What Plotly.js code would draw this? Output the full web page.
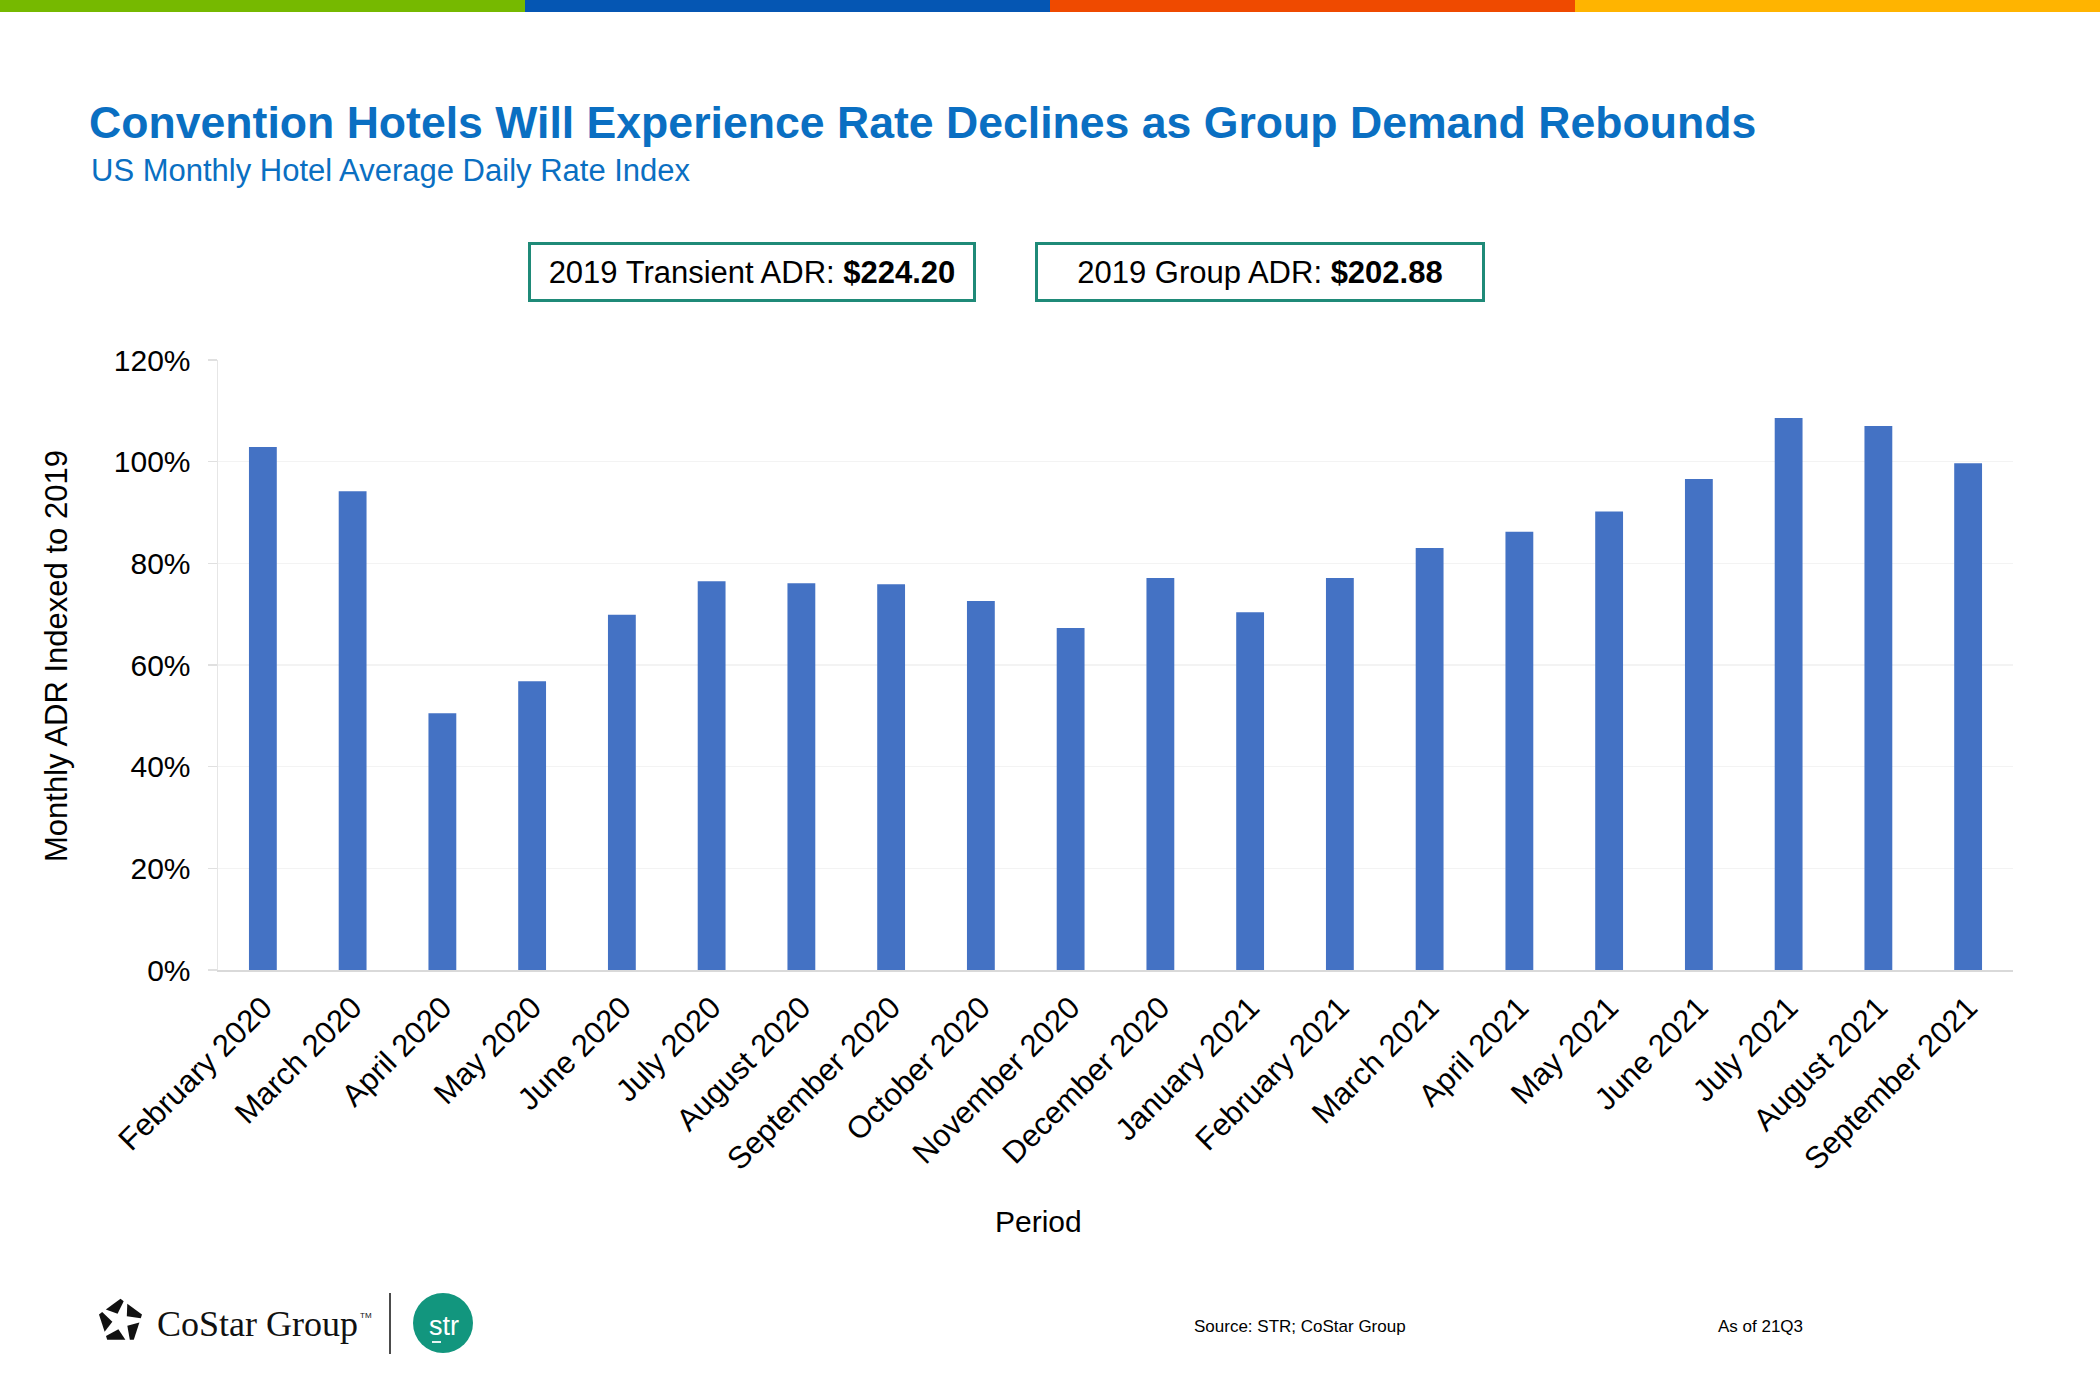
<!DOCTYPE html>
<html>
<head>
<meta charset="utf-8">
<script src="https://cdn.plot.ly/plotly-3.0.1.min.js"></script>
<style>
  html, body { margin: 0; padding: 0; background: #ffffff; }
  #chart { width: 2100px; height: 1400px; }
</style>
</head>
<body>
<div id="chart"></div>
<script>
// US monthly hotel ADR, indexed to the same month of 2019 (values in %)
const periods = [
    'February 2020', 'March 2020', 'April 2020', 'May 2020', 'June 2020',
    'July 2020', 'August 2020', 'September 2020', 'October 2020', 'November 2020',
    'December 2020', 'January 2021', 'February 2021', 'March 2021', 'April 2021',
    'May 2021', 'June 2021', 'July 2021', 'August 2021', 'September 2021'
];
const adrIndex = [
    102.9, 94.2, 50.5, 56.8, 69.9,
    76.5, 76.1, 75.9, 72.6, 67.3,
    77.1, 70.4, 77.1, 83.0, 86.2,
    90.2, 96.6, 108.6, 107.0, 99.7
];
const yTicks       = [0, 20, 40, 60, 80, 100, 120];
const transientAdr = '$224.20';
const groupAdr     = '$202.88';
const brandColors  = ['#76b900', '#0556b3', '#ef4a00', '#ffb400'];

const W = 2100, H = 1400;
const plotL = 218, plotR = 2013, plotT = 360, plotB = 970;
// pixel -> paper helpers for the decorations around the plot
const px = X => (X - plotL) / (plotR - plotL);
const py = Y => (plotB - Y) / (plotB - plotT);

const FONT = 'Arial, "Liberation Sans", sans-serif';
const BLUE = '#0a6fc2';
const TEAL = '#1f8a78';

const traces = [{
    type: 'bar',
    x: periods,
    y: adrIndex,
    marker: { color: '#4472c4' },
    hovertemplate: '%{x}<br>%{y:.1f}%<extra></extra>'
}];

// top brand strip
const shapes = brandColors.map((col, i) => ({
    type: 'rect', xref: 'paper', yref: 'paper', layer: 'above',
    x0: px(i * W / 4), x1: px((i + 1) * W / 4), y0: py(12), y1: py(0),
    fillcolor: col, line: { width: 0 }
}));
// footer divider, str badge and its underline
shapes.push({
    type: 'line', xref: 'paper', yref: 'paper',
    x0: px(390), x1: px(390), y0: py(1354), y1: py(1293),
    line: { color: '#111111', width: 1.5 }
});
shapes.push({
    type: 'circle', xref: 'paper', yref: 'paper',
    x0: px(413), x1: px(473), y0: py(1353), y1: py(1293),
    fillcolor: '#12967e', line: { width: 0 }
});
shapes.push({
    type: 'line', xref: 'paper', yref: 'paper',
    x0: px(432), x1: px(441), y0: py(1342), y1: py(1342),
    line: { color: '#ffffff', width: 1.8 }
});

// CoStar pinwheel mark: a pentagon split by a white star, as inline svg
function starIcon() {
    const cx = 50, cy = 54, R = 50, rIn = 0.36 * R, gap = 6;
    const rad = d => d * Math.PI / 180;
    const edgePt = a => {
        // nearest edge midpoint angle of an upright pentagon
        const mid = -54 + 72 * Math.round((a + 54) / 72);
        const d = R * Math.cos(rad(36)) / Math.cos(rad(a - mid));
        return [cx + d * Math.cos(rad(a)), cy + d * Math.sin(rad(a))];
    };
    let polys = '';
    for (let j = 0; j < 5; j++) {
        const t0 = -75 + 72 * j, t1 = t0 + 72;
        const pts = [edgePt(t0 + gap)];
        for (let k = 0; k < 6; k++) {
            let v = -90 + 72 * k;
            while (v < t0) v += 360;
            if (v > t0 + gap && v < t1 - gap) pts.push([cx + R * Math.cos(rad(v)), cy + R * Math.sin(rad(v))]);
        }
        pts.push(edgePt(t1 - gap));
        const m = t0 + 36;
        pts.push([cx + rIn * Math.cos(rad(m)), cy + rIn * Math.sin(rad(m))]);
        polys += '<polygon fill="#111" points="' + pts.map(p => p[0].toFixed(1) + ',' + p[1].toFixed(1)).join(' ') + '"/>';
    }
    const svg = '<svg xmlns="http://www.w3.org/2000/svg" viewBox="-2 0 104 104">' + polys + '</svg>';
    return 'data:image/svg+xml;base64,' + btoa(svg);
}

const note = (X, Y, text, size, extra) => Object.assign({
    xref: 'paper', yref: 'paper', x: px(X), y: py(Y),
    xanchor: 'left', yanchor: 'middle', showarrow: false,
    text: text, font: { family: FONT, size: size, color: '#000000' }
}, extra || {});

const annotations = [
    note(89, 170, 'US Monthly Hotel Average Daily Rate Index', 31,
         { font: { family: FONT, size: 31, color: BLUE } }),
    note(752, 272, '2019 Transient ADR: <b>' + transientAdr + '</b>', 31, {
        xanchor: 'center', width: 440, height: 52, borderpad: 1,
        bordercolor: TEAL, borderwidth: 3, bgcolor: '#ffffff'
    }),
    note(1260, 272, '2019 Group ADR: <b>' + groupAdr + '</b>', 31, {
        xanchor: 'center', width: 442, height: 52, borderpad: 1,
        bordercolor: TEAL, borderwidth: 3, bgcolor: '#ffffff'
    }),
    // axis titles
    note(56, 656, 'Monthly ADR Indexed to 2019', 31, { xanchor: 'center', textangle: -90 }),
    note(1038, 1221, 'Period', 30, { xanchor: 'center' }),
    // footer
    note(155, 1324, 'CoStar Group', 36,
         { font: { family: '"Liberation Serif", "DejaVu Serif", serif', size: 36, color: '#111111' } }),
    note(358, 1315, 'TM', 8, { font: { family: FONT, size: 8, color: '#111111' } }),
    note(444, 1326, 'str', 27, { xanchor: 'center', font: { family: FONT, size: 27, color: '#ffffff' } }),
    note(1192, 1326, 'Source: STR; CoStar Group', 17),
    note(1716, 1326, 'As of 21Q3', 17)
];

const layout = {
    width: W, height: H,
    margin: { l: plotL, r: W - plotR, t: plotT, b: H - plotB, pad: 0 },
    paper_bgcolor: '#ffffff', plot_bgcolor: '#ffffff',
    font: { family: FONT, size: 30, color: '#000000' },
    showlegend: false,
    bargap: 0.69,
    title: {
        text: '<b>Convention Hotels Will Experience Rate Declines as Group Demand Rebounds</b>',
        xref: 'container', yref: 'container',
        x: 89 / W, xanchor: 'left', y: 1 - 122 / H, yanchor: 'middle',
        font: { family: FONT, size: 44.6, color: BLUE }
    },
    xaxis: {
        type: 'category',
        tickangle: -45,
        tickfont: { family: FONT, size: 31, color: '#000000' },
        ticklabelstandoff: 5,
        showline: true, linecolor: '#d9d9d9', linewidth: 2,
        showgrid: false, ticks: '', zeroline: false,
        automargin: false
    },
    yaxis: {
        range: [0, 120],
        tickvals: yTicks,
        ticktext: yTicks.map(v => v + '%'),
        tickfont: { family: FONT, size: 30, color: '#000000' },
        ticklabelstandoff: 11,
        showline: true, linecolor: '#e6e6e6', linewidth: 1.5,
        ticks: 'outside', ticklen: 9, tickcolor: '#e0e0e0', tickwidth: 1.5,
        showgrid: true, gridcolor: '#f3f3f3', gridwidth: 1.5,
        zeroline: false, automargin: false
    },
    shapes: shapes,
    annotations: annotations,
    images: [{
        source: starIcon(), xref: 'paper', yref: 'paper',
        x: px(97), y: py(1297), sizex: 47 / (plotR - plotL), sizey: 47 / (plotB - plotT),
        xanchor: 'left', yanchor: 'top', sizing: 'stretch', layer: 'above'
    }]
};

Plotly.newPlot('chart', traces, layout, { displayModeBar: false, staticPlot: true });
</script>
</body>
</html>
